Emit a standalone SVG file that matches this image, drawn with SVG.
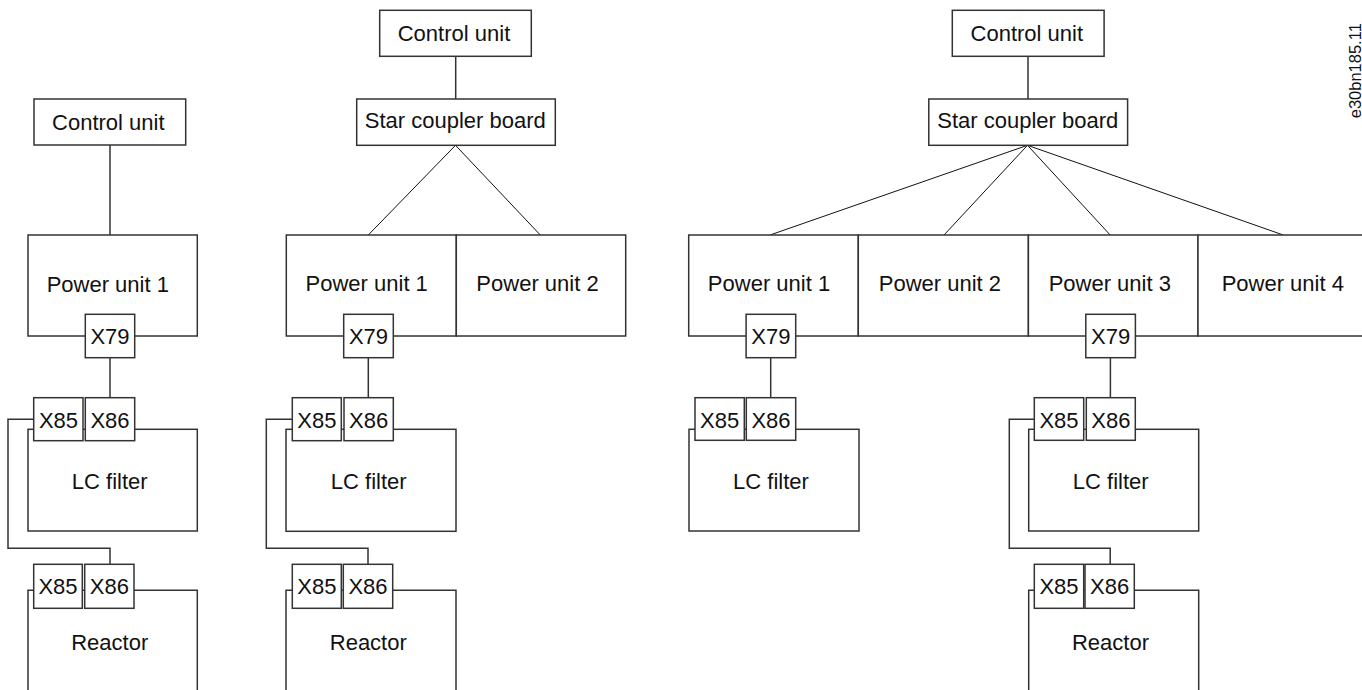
<svg xmlns="http://www.w3.org/2000/svg" width="1362" height="690" viewBox="0 0 1362 690">
<style>
.b{fill:#fff;stroke:#333;stroke-width:1.5}
.o{fill:none;stroke:#333;stroke-width:1.5}
.d{fill:none;stroke:#111;stroke-width:1}
text{font-family:"Liberation Sans",Arial,sans-serif;font-size:22px;fill:#111;text-anchor:middle}
.id{font-size:16.5px;text-anchor:start}
</style>
<rect width="1362" height="690" fill="#fff"/>
<g id="connectors">
<line class="o" x1="110" y1="145" x2="110" y2="235"/>
<line class="o" x1="110" y1="357.7" x2="110" y2="397.7"/>
<path class="o" d="M33.7 419.2H8V548.3H110V564.3"/>
<line class="o" x1="455.7" y1="56.3" x2="455.7" y2="99"/>
<line class="d" x1="455.5" y1="145.3" x2="368.3" y2="235"/>
<line class="d" x1="455.5" y1="145.3" x2="540.3" y2="235"/>
<line class="o" x1="368.3" y1="357.7" x2="368.3" y2="397.7"/>
<path class="o" d="M292.3 419.2H266.3V548.3H368V564.3"/>
<line class="o" x1="1028" y1="56.3" x2="1028" y2="99"/>
<line class="d" x1="1027.5" y1="145.3" x2="770" y2="235"/>
<line class="d" x1="1027.5" y1="145.3" x2="944" y2="235"/>
<line class="d" x1="1027.5" y1="145.3" x2="1110.2" y2="235"/>
<line class="d" x1="1027.5" y1="145.3" x2="1283.3" y2="235"/>
<line class="o" x1="770.7" y1="357.7" x2="770.7" y2="397.7"/>
<line class="o" x1="1110.4" y1="357.7" x2="1110.4" y2="397.7"/>
<path class="o" d="M1034.3 419.2H1009.3V548.3H1110.2V564.3"/>
</g>
<g id="col1-control"><rect class="b" x="34" y="99" width="151.7" height="46"/><text x="108.3" y="129.5">Control unit</text></g>
<g id="col1-pu1"><rect class="b" x="28" y="235" width="169.3" height="101"/><text x="107.8" y="291.7">Power unit 1</text></g>
<g id="col1-x79"><rect class="b" x="85.3" y="314.3" width="49.4" height="43.4"/><text x="110" y="344.3">X79</text></g>
<g id="col1-lc"><rect class="b" x="28" y="429.3" width="169.3" height="101.7"/><text x="109.7" y="489.3">LC filter</text></g>
<g id="col1-lc-x85"><rect class="b" x="33.7" y="397.7" width="49.3" height="43"/><text x="58.5" y="427.7">X85</text></g>
<g id="col1-lc-x86"><rect class="b" x="85.3" y="397.7" width="49.4" height="43"/><text x="110" y="427.7">X86</text></g>
<g id="col1-reactor"><path class="o" d="M28 692V590.3H197.3V692"/><text x="109.7" y="650">Reactor</text></g>
<g id="col1-r-x85"><rect class="b" x="33.7" y="564.3" width="48.6" height="44"/><text x="58" y="594.3">X85</text></g>
<g id="col1-r-x86"><rect class="b" x="84.7" y="564.3" width="49.3" height="44"/><text x="109.4" y="594.3">X86</text></g>

<g id="col2-control"><rect class="b" x="379.7" y="10.3" width="151.6" height="46"/><text x="454" y="40.5">Control unit</text></g>
<g id="col2-star"><rect class="b" x="356.7" y="99" width="198.6" height="46.3"/><text x="455.3" y="128.3">Star coupler board</text></g>
<g id="col2-pu1"><rect class="b" x="286.3" y="235" width="170" height="101"/><text x="366.7" y="290.7">Power unit 1</text></g>
<g id="col2-pu2"><rect class="b" x="456.3" y="235" width="169.4" height="101"/><text x="537.5" y="290.7">Power unit 2</text></g>
<g id="col2-x79"><rect class="b" x="343.7" y="314.3" width="49.6" height="43.4"/><text x="368.5" y="344.3">X79</text></g>
<g id="col2-lc"><rect class="b" x="286" y="429.3" width="170" height="102"/><text x="368.7" y="489.3">LC filter</text></g>
<g id="col2-lc-x85"><rect class="b" x="292.3" y="397.7" width="49" height="43"/><text x="316.8" y="427.7">X85</text></g>
<g id="col2-lc-x86"><rect class="b" x="344" y="397.7" width="49.3" height="43"/><text x="368.6" y="427.7">X86</text></g>
<g id="col2-reactor"><path class="o" d="M286 692V590.3H456V692"/><text x="368.3" y="650">Reactor</text></g>
<g id="col2-r-x85"><rect class="b" x="292.3" y="564.3" width="49" height="44"/><text x="316.8" y="594.3">X85</text></g>
<g id="col2-r-x86"><rect class="b" x="343.3" y="564.3" width="49.4" height="44"/><text x="368" y="594.3">X86</text></g>

<g id="col3-control"><rect class="b" x="952.3" y="10.3" width="151.8" height="46"/><text x="1026.8" y="40.5">Control unit</text></g>
<g id="col3-star"><rect class="b" x="928.8" y="99" width="198.8" height="46.3"/><text x="1027.8" y="128.3">Star coupler board</text></g>
<g id="col3-pu1"><rect class="b" x="688.7" y="235" width="169.6" height="101"/><text x="769" y="290.7">Power unit 1</text></g>
<g id="col3-pu2"><rect class="b" x="858.3" y="235" width="170.1" height="101"/><text x="939.9" y="290.7">Power unit 2</text></g>
<g id="col3-pu3"><rect class="b" x="1028.4" y="235" width="169.6" height="101"/><text x="1109.8" y="290.7">Power unit 3</text></g>
<g id="col3-pu4"><rect class="b" x="1198" y="235" width="170" height="101"/><text x="1282.8" y="290.7">Power unit 4</text></g>
<g id="col3-x79a"><rect class="b" x="746.1" y="314.3" width="49.6" height="43.4"/><text x="770.9" y="344.3">X79</text></g>
<g id="col3-x79b"><rect class="b" x="1085.8" y="314.3" width="49.6" height="43.4"/><text x="1110.6" y="344.3">X79</text></g>
<g id="col3-lc1"><rect class="b" x="689" y="429.3" width="170" height="101.7"/><text x="771" y="489.3">LC filter</text></g>
<g id="col3-lc1-x85"><rect class="b" x="695" y="397.7" width="49.3" height="42.6"/><text x="719.6" y="427.7">X85</text></g>
<g id="col3-lc1-x86"><rect class="b" x="746.3" y="397.7" width="49.4" height="42.6"/><text x="771" y="427.7">X86</text></g>
<g id="col3-lc3"><rect class="b" x="1028.7" y="429.3" width="170" height="101.7"/><text x="1110.7" y="489.3">LC filter</text></g>
<g id="col3-lc3-x85"><rect class="b" x="1034.3" y="397.7" width="49.4" height="42.6"/><text x="1059" y="427.7">X85</text></g>
<g id="col3-lc3-x86"><rect class="b" x="1086.3" y="397.7" width="49" height="42.6"/><text x="1110.8" y="427.7">X86</text></g>
<g id="col3-reactor"><path class="o" d="M1028.7 692V590.3H1198.7V692"/><text x="1110.5" y="650">Reactor</text></g>
<g id="col3-r-x85"><rect class="b" x="1034.3" y="564.3" width="49.4" height="44"/><text x="1059" y="594.3">X85</text></g>
<g id="col3-r-x86"><rect class="b" x="1085" y="564.3" width="49.3" height="44"/><text x="1109.7" y="594.3">X86</text></g>

<text class="id" x="1361.5" y="118.3" transform="rotate(-90 1361.5 118.3)">e30bn185.11</text>
</svg>
